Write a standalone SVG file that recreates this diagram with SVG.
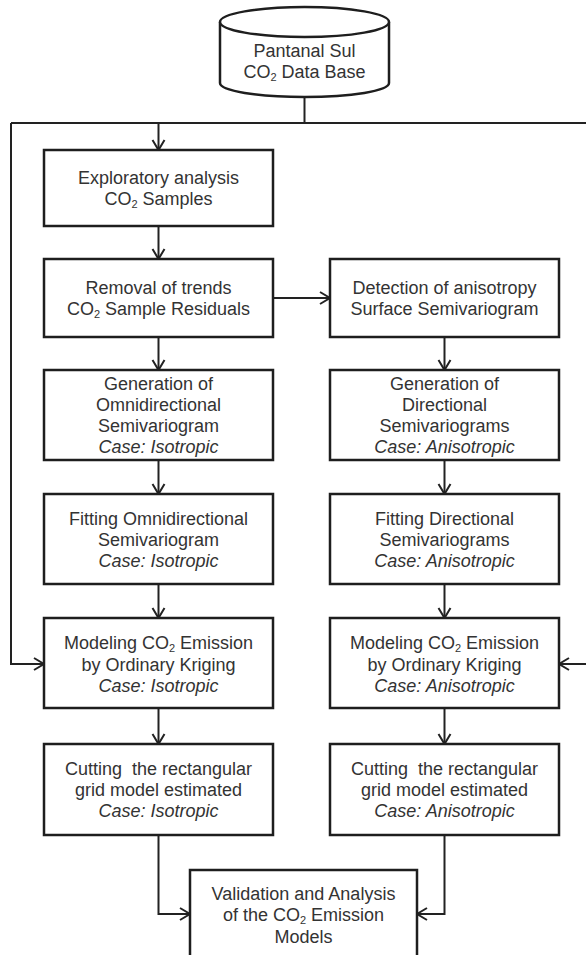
<svg xmlns="http://www.w3.org/2000/svg" width="586" height="955" viewBox="0 0 586 955">
<style>
  .box { fill: #ffffff; stroke: #1e1e1e; stroke-width: 2.5; }
  .conn { fill: none; stroke: #222222; stroke-width: 2; }
  text { font-family: "Liberation Sans", Arial, sans-serif; font-size: 18px; fill: #333333; text-anchor: middle; }
  .it { font-style: italic; }
  .sub { font-size: 11px; }
</style>
<defs>
  <marker id="arr" markerUnits="userSpaceOnUse" markerWidth="14" markerHeight="16" refX="11" refY="7" orient="auto">
    <path d="M1,1 L11,7 L1,13" fill="none" stroke="#222222" stroke-width="2"/>
  </marker>
</defs>
<rect x="0" y="0" width="586" height="955" fill="#ffffff"/>

<g id="connectors">
  <path class="conn" d="M304.5,97 L304.5,123"/>
  <path class="conn" d="M11,123 L586,123"/>
  <path class="conn" d="M158.5,123 L158.5,150" marker-end="url(#arr)"/>
  <path class="conn" d="M11,123 L11,664 L44,664" marker-end="url(#arr)"/>
  <path class="conn" d="M586,664 L559,664" marker-end="url(#arr)"/>
  <path class="conn" d="M158.5,226 L158.5,259" marker-end="url(#arr)"/>
  <path class="conn" d="M273,298 L330,298" marker-end="url(#arr)"/>
  <path class="conn" d="M158.5,337 L158.5,370" marker-end="url(#arr)"/>
  <path class="conn" d="M444.5,337 L444.5,370" marker-end="url(#arr)"/>
  <path class="conn" d="M158.5,460 L158.5,494" marker-end="url(#arr)"/>
  <path class="conn" d="M444.5,460 L444.5,494" marker-end="url(#arr)"/>
  <path class="conn" d="M158.5,584 L158.5,618" marker-end="url(#arr)"/>
  <path class="conn" d="M444.5,584 L444.5,618" marker-end="url(#arr)"/>
  <path class="conn" d="M158.5,708 L158.5,744" marker-end="url(#arr)"/>
  <path class="conn" d="M444.5,708 L444.5,744" marker-end="url(#arr)"/>
  <path class="conn" d="M158.5,835 L158.5,914 L190,914" marker-end="url(#arr)"/>
  <path class="conn" d="M444.5,835 L444.5,914 L417,914" marker-end="url(#arr)"/>
</g>

<g id="database">
  <path class="box" d="M220,22 L220,83 A84.5,14 0 0 0 389,83 L389,22"/>
  <ellipse class="box" cx="304.5" cy="22" rx="84.5" ry="15"/>
  <text x="304.5" y="57">Pantanal Sul</text>
  <text x="304.5" y="78">CO<tspan class="sub" dy="3">2</tspan><tspan dy="-3"> Data Base</tspan></text>
</g>

<g id="exploratory">
  <rect class="box" x="44" y="150" width="229" height="76"/>
  <text x="158.5" y="184">Exploratory analysis</text>
  <text x="158.5" y="205">CO<tspan class="sub" dy="3">2</tspan><tspan dy="-3"> Samples</tspan></text>
</g>

<g id="removal">
  <rect class="box" x="44" y="259" width="229" height="78"/>
  <text x="158.5" y="294">Removal of trends</text>
  <text x="158.5" y="315">CO<tspan class="sub" dy="3">2</tspan><tspan dy="-3"> Sample Residuals</tspan></text>
</g>

<g id="detection">
  <rect class="box" x="330" y="259" width="229" height="78"/>
  <text x="444.5" y="294">Detection of anisotropy</text>
  <text x="444.5" y="315">Surface Semivariogram</text>
</g>

<g id="gen-omni">
  <rect class="box" x="44" y="370" width="229" height="90"/>
  <text x="158.5" y="390">Generation of</text>
  <text x="158.5" y="411">Omnidirectional</text>
  <text x="158.5" y="432">Semivariogram</text>
  <text x="158.5" y="453" class="it">Case: Isotropic</text>
</g>

<g id="gen-dir">
  <rect class="box" x="330" y="370" width="229" height="90"/>
  <text x="444.5" y="390">Generation of</text>
  <text x="444.5" y="411">Directional</text>
  <text x="444.5" y="432">Semivariograms</text>
  <text x="444.5" y="453" class="it">Case: Anisotropic</text>
</g>

<g id="fit-omni">
  <rect class="box" x="44" y="494" width="229" height="90"/>
  <text x="158.5" y="525">Fitting Omnidirectional</text>
  <text x="158.5" y="546">Semivariogram</text>
  <text x="158.5" y="567" class="it">Case: Isotropic</text>
</g>

<g id="fit-dir">
  <rect class="box" x="330" y="494" width="229" height="90"/>
  <text x="444.5" y="525">Fitting Directional</text>
  <text x="444.5" y="546">Semivariograms</text>
  <text x="444.5" y="567" class="it">Case: Anisotropic</text>
</g>

<g id="model-iso">
  <rect class="box" x="44" y="618" width="229" height="90"/>
  <text x="158.5" y="649">Modeling CO<tspan class="sub" dy="3">2</tspan><tspan dy="-3"> Emission</tspan></text>
  <text x="158.5" y="671">by Ordinary Kriging</text>
  <text x="158.5" y="692" class="it">Case: Isotropic</text>
</g>

<g id="model-aniso">
  <rect class="box" x="330" y="618" width="229" height="90"/>
  <text x="444.5" y="649">Modeling CO<tspan class="sub" dy="3">2</tspan><tspan dy="-3"> Emission</tspan></text>
  <text x="444.5" y="671">by Ordinary Kriging</text>
  <text x="444.5" y="692" class="it">Case: Anisotropic</text>
</g>

<g id="cut-iso">
  <rect class="box" x="44" y="744" width="229" height="91"/>
  <text x="158.5" y="775">Cutting&#160; the rectangular</text>
  <text x="158.5" y="796">grid model estimated</text>
  <text x="158.5" y="817" class="it">Case: Isotropic</text>
</g>

<g id="cut-aniso">
  <rect class="box" x="330" y="744" width="229" height="91"/>
  <text x="444.5" y="775">Cutting&#160; the rectangular</text>
  <text x="444.5" y="796">grid model estimated</text>
  <text x="444.5" y="817" class="it">Case: Anisotropic</text>
</g>

<g id="validation">
  <rect class="box" x="190" y="870" width="227" height="100"/>
  <text x="303.5" y="900">Validation and Analysis</text>
  <text x="303.5" y="921">of the CO<tspan class="sub" dy="3">2</tspan><tspan dy="-3"> Emission</tspan></text>
  <text x="303.5" y="943">Models</text>
</g>
</svg>
